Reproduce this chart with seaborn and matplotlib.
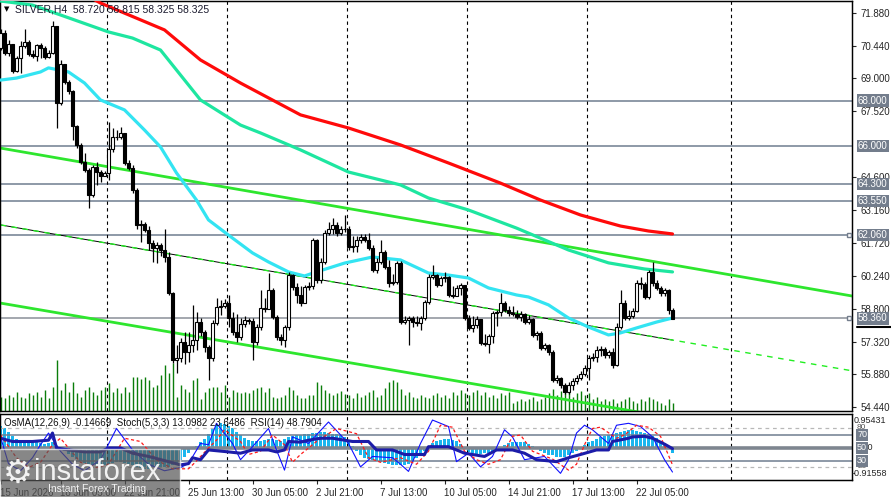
import numpy as np
import pandas as pd
import seaborn as sns
import matplotlib.pyplot as plt
from matplotlib.patches import Rectangle

# SILVER H4 candles (bar 0 = leftmost visible bar)
first_open = 70.33
closes = [
    70.99, 70.11, 70.51, 69.31, 69.89, 70.42, 70.60, 70.07, 69.98, 70.46,
    70.33, 69.93, 70.11, 71.30, 67.90, 69.62, 68.83, 68.43, 66.88, 66.04,
    65.29, 64.93, 63.82, 65.06, 64.84, 64.66, 64.80, 65.86, 66.39, 66.39,
    66.57, 65.24, 65.02, 64.05, 62.50, 62.54, 62.28, 61.70, 61.48, 61.61,
    61.39, 61.08, 59.49, 56.52, 56.61, 57.32, 56.88, 57.18, 57.41, 58.20,
    57.76, 57.10, 56.61, 58.16, 58.87, 58.91, 59.04, 58.38, 57.76, 57.54,
    58.11, 58.29, 58.25, 57.32, 57.98, 58.82, 58.78, 59.62, 58.42, 57.54,
    57.41, 57.98, 60.28, 59.75, 59.40, 59.04, 59.75, 59.80, 61.83, 60.06,
    60.86, 62.14, 62.32, 62.50, 62.14, 62.32, 62.32, 61.52, 61.57, 61.83,
    61.97, 61.83, 61.48, 60.51, 60.86, 61.30, 60.64, 59.93, 59.97, 60.81,
    58.20, 58.29, 58.38, 58.20, 58.16, 58.38, 59.09, 60.20, 60.28, 59.84,
    60.15, 60.20, 59.40, 59.35, 59.71, 59.84, 58.38, 57.94, 58.07, 58.34,
    57.27, 57.23, 57.58, 58.60, 58.65, 59.04, 58.73, 58.60, 58.56, 58.42,
    58.56, 58.20, 58.34, 57.63, 57.72, 57.05, 57.18, 56.88, 55.64, 55.72,
    55.42, 55.10, 55.42, 55.59, 55.72, 55.90, 56.17, 56.61, 56.65, 56.96,
    57.01, 56.74, 56.88, 56.30, 57.98, 59.04, 58.38, 58.47, 58.69, 59.93,
    59.89, 59.31, 60.42, 59.93, 59.71, 59.49, 59.62, 58.72, 58.325]
highs = [
    71.17, 71.13, 70.69, 70.51, 69.98, 70.64, 71.17, 70.69, 70.24, 70.51,
    70.55, 70.42, 70.24, 71.53, 71.30, 69.80, 69.36, 68.91, 68.47, 66.92,
    66.13, 65.68, 65.02, 65.15, 65.29, 64.93, 64.89, 67.06, 66.79, 66.70,
    66.83, 66.57, 65.37, 65.15, 64.13, 62.72, 62.63, 62.45, 61.83, 61.74,
    61.70, 62.32, 61.30, 59.53, 57.18, 57.49, 57.76, 57.76, 58.96, 58.65,
    58.38, 57.85, 57.18, 58.29, 59.26, 59.18, 59.22, 59.40, 58.65, 58.56,
    58.38, 58.47, 58.38, 58.38, 58.11, 59.62, 59.26, 60.37, 59.71, 58.51,
    57.67, 58.07, 60.42, 60.33, 59.93, 59.80, 59.84, 59.97, 61.92, 61.88,
    61.04, 62.28, 62.63, 62.81, 62.63, 62.45, 62.94, 62.45, 62.01, 62.01,
    62.10, 62.10, 62.14, 61.61, 61.04, 61.83, 61.39, 60.95, 60.33, 60.90,
    60.90, 58.47, 58.47, 58.47, 58.47, 58.47, 59.18, 60.33, 60.73, 60.33,
    60.24, 60.42, 60.24, 59.80, 59.84, 59.93, 59.35, 58.51, 58.47, 58.47,
    58.29, 57.67, 57.67, 58.69, 58.73, 59.49, 59.13, 58.91, 58.91, 58.73,
    58.69, 58.60, 58.51, 58.38, 57.80, 57.80, 57.27, 57.23, 56.96, 55.86,
    55.77, 55.50, 55.55, 55.72, 55.86, 56.04, 56.30, 56.74, 56.83, 57.14,
    57.14, 57.10, 56.96, 57.05, 58.16, 59.62, 59.18, 58.73, 58.82, 60.06,
    60.20, 59.97, 60.51, 60.86, 60.06, 59.80, 59.71, 59.66, 58.815]
lows = [
    70.24, 70.02, 69.98, 69.22, 69.27, 69.22, 70.33, 69.98, 69.89, 69.76,
    69.89, 69.84, 69.89, 70.07, 66.79, 67.81, 68.74, 68.30, 66.26, 65.90,
    65.20, 64.84, 63.25, 63.74, 64.27, 64.40, 64.71, 64.49, 65.73, 66.26,
    66.30, 65.15, 64.93, 63.91, 62.32, 61.74, 62.19, 61.39, 60.86, 60.81,
    61.12, 60.86, 59.40, 56.39, 55.94, 56.43, 56.35, 56.43, 56.88, 56.96,
    57.58, 56.88, 55.64, 56.48, 58.07, 58.51, 58.82, 57.98, 57.63, 57.32,
    57.41, 57.98, 58.11, 56.52, 57.18, 57.85, 58.65, 59.04, 58.34, 57.41,
    57.18, 57.10, 57.85, 59.62, 59.04, 58.91, 59.18, 59.62, 59.66, 59.93,
    59.93, 60.77, 62.05, 62.10, 62.01, 62.05, 62.19, 61.39, 61.30, 61.30,
    61.70, 61.74, 61.39, 60.42, 60.37, 60.77, 60.55, 59.75, 59.84, 59.89,
    58.11, 58.11, 57.18, 57.98, 58.03, 57.85, 58.29, 59.00, 60.11, 59.75,
    59.80, 59.97, 59.31, 59.26, 59.35, 59.40, 58.29, 57.85, 57.76, 57.94,
    57.18, 57.14, 56.83, 57.27, 58.03, 58.47, 58.65, 58.47, 58.47, 58.34,
    58.25, 58.11, 58.11, 57.54, 57.41, 56.96, 56.96, 56.74, 55.55, 55.50,
    55.28, 55.01, 55.01, 55.19, 55.46, 55.64, 55.81, 55.64, 56.48, 56.43,
    56.70, 56.61, 56.61, 56.17, 56.26, 57.89, 58.29, 58.29, 58.38, 58.65,
    59.66, 59.22, 59.22, 59.80, 59.62, 59.35, 59.35, 58.56, 58.325]
volumes = [
    1400, 1300, 1600, 1400, 1900, 1400, 1300, 1800, 1600, 1900, 1400, 2100, 1300, 2400,
    5100,
    2100, 2800, 1900, 2900, 1800, 1400, 2100, 2400, 1900, 1600, 2100, 2400, 2800, 1900, 2300,
    1800, 2400, 1900, 3400, 3400, 3200, 3400, 3100, 2400, 2600, 3600, 4600, 3800, 4800,
    1400, 2600, 2200, 1900, 3100, 3300, 1200, 1900, 2300, 2400,
    2400, 1900, 2600, 1400, 2100, 1900, 1800, 1900, 1800, 2100,
    2300, 2400, 1900, 2300, 1400, 1300, 1400, 1600, 2400, 2100,
    1600, 1300, 1300, 1600, 1600, 2900, 2600, 2100, 1800, 1600,
    1800, 2000, 1700,
    1600, 1300, 1800, 1400, 1600, 1900, 2100, 1400, 1600, 2300,
    2900, 3100, 2900, 2200, 1600, 1900, 1400, 1300, 1600, 1400,
    1300, 1600, 1800, 1400, 1600, 1300, 1900, 1600, 2100, 1800,
    1600, 1900, 2100, 1600, 1900, 1400, 1600, 1300, 1800, 1600, 1900,
    800, 1000, 1200, 1000, 1200, 1400, 1000, 1200, 1400, 1800,
    2200, 1600, 2000, 1800, 2000, 1400, 1800, 2000, 1600, 1800,
    1200, 1400, 1000, 1200, 1000, 1200, 800, 1000, 1200, 1400,
    1000, 800, 1200, 1000, 1400, 1200, 1000, 800, 600, 1200, 800]

# moving averages, read at points along each line (bar, price)
ma_red_bars = [20, 25, 41, 50, 60, 75, 87, 100, 112, 125, 135, 145, 155, 162, 168]
ma_red = [72.80, 72.32, 71.13, 69.80, 68.78, 67.37, 66.79, 66.04, 65.24, 64.35,
          63.60, 62.94, 62.45, 62.23, 62.10]
ma_teal_bars = [0, 8, 27, 33, 40, 50, 60, 65, 75, 87, 100, 107, 117, 129, 142, 152, 161, 168]
ma_teal = [72.41, 72.23, 71.04, 70.77, 70.24, 68.03, 66.92, 66.57, 65.82, 64.84,
           64.27, 63.69, 63.16, 62.36, 61.39, 60.82, 60.55, 60.42]
ma_cyan_bars = [0, 4, 10, 12, 17, 21, 25, 31, 36, 40, 44, 49, 52, 57, 63, 67, 72, 76,
                79, 86, 93, 100, 107, 112, 117, 122, 129, 132, 137, 142, 147, 152,
                155, 159, 164, 168]
ma_cyan = [68.91, 69.00, 69.27, 69.45, 69.27, 68.78, 68.03, 67.59, 66.70, 65.95,
           64.80, 63.60, 62.72, 62.05, 61.26, 60.86, 60.42, 60.24, 60.42, 60.81,
           61.08, 60.95, 60.37, 60.28, 60.15, 59.71, 59.40, 59.31, 58.96, 58.38,
           57.98, 57.63, 57.72, 57.94, 58.20, 58.38]

# channel lines (start bar, start price, end bar, end price)
upper_line = (0, 65.90, 213, 59.35)
middle_line = (0, 62.50, 213, 56.04)
lower_line = (0, 59.04, 213, 52.60)

levels = [68.000, 66.000, 64.300, 63.550, 62.060]
last_level = 58.360
price_ticks = [71.880, 70.440, 69.000, 67.520, 64.600, 63.160, 61.720, 60.240,
               58.800, 57.320, 55.880, 54.440]

# indicators
osma = [0.62, 0.57, 0.45, 0.34,
        0.25, 0.22, 0.2, 0.18, 0.15, 0.15, 0.12, 0.1, 0.12,
        0.15, 0.02,
        -0.05, -0.1, -0.18, -0.25, -0.32, -0.38,
        -0.42, -0.45, -0.48, -0.5, -0.5, -0.48, -0.45, -0.42, -0.4, -0.4,
        -0.42, -0.45, -0.5, -0.55, -0.58, -0.6, -0.6, -0.58, -0.55, -0.55,
        -0.55, -0.55, -0.5, -0.45, -0.35, -0.25,
        -0.15, -0.05, 0.05, 0.15, 0.25, 0.4,
        0.55, 0.65, 0.7, 0.68, 0.62, 0.55,
        0.45, 0.35, 0.28, 0.22, 0.2, 0.18, 0.18,
        0.22, 0.25, 0.25, 0.22, 0.2, 0.25, 0.3, 0.32, 0.35, 0.35,
        0.38, 0.4, 0.42, 0.42, 0.45, 0.45, 0.42, 0.4, 0.38, 0.35, 0.3,
        0.2, 0.05, -0.1, -0.2, -0.28, -0.33,
        -0.35, -0.38, -0.4, -0.42, -0.45, -0.48, -0.5, -0.5,
        -0.48, -0.45, -0.38, -0.3, -0.2, -0.1,
        0.05, 0.12, 0.18, 0.22, 0.25, 0.25, 0.22, 0.18, 0.1,
        -0.05, -0.12, -0.15, -0.17, -0.17, -0.16, -0.15, -0.12, -0.08,
        0.02, 0.08, 0.12, 0.15, 0.17, 0.17, 0.15, 0.1, 0.05,
        -0.05, -0.1, -0.15, -0.2, -0.22, -0.25, -0.26, -0.25, -0.22, -0.15, -0.08,
        0.0, 0.08, 0.15, 0.2, 0.25, 0.3, 0.33, 0.36, 0.4, 0.42, 0.45,
        0.48, 0.5, 0.5, 0.48, 0.45, 0.42, 0.38, 0.33, 0.28, 0.2, 0.12,
        -0.05, -0.15]
stoch_bars = [0, 2, 5, 8, 10, 12, 15, 18, 21, 25, 29, 33, 37, 41, 45, 47, 50, 52, 54, 58,
              60, 63, 67, 69, 71, 73, 77, 82, 87, 90, 93, 98, 100, 102, 105, 108, 112, 114,
              117, 120, 123, 126, 128, 131, 136, 140, 142, 144, 146, 148, 152, 154, 157,
              160, 163, 166, 168]
stoch_main = [67, 26, 15, 35, 55, 73, 45, 25, 15, 32, 80, 47, 25, 15, 20, 26, 57, 55, 88, 57,
              32, 52, 80, 47, 16, 67, 57, 90, 57, 21, 37, 35, 25, 14, 57, 93, 83, 29,
              42, 21, 37, 78, 67, 32, 37, 11, 32, 73, 85, 78, 57, 85, 88,
              83, 67, 32, 13]
signal_bars = [0, 4, 7, 10, 13, 15, 17, 20, 24, 27, 31, 35, 39, 43, 47, 49, 52, 54, 56, 60,
               62, 65, 68, 71, 73, 75, 79, 84, 89, 92, 95, 100, 104, 107, 110, 113, 116, 119,
               122, 125, 128, 130, 133, 138, 142, 144, 146, 148, 150, 154, 156, 159, 162,
               165, 168]
stoch_signal = [70, 35, 20, 28, 55, 65, 50, 28, 20, 25, 65, 60, 32, 18, 18, 30, 50, 62, 78, 60,
                40, 45, 70, 55, 28, 40, 60, 80, 72, 35, 28, 35, 25, 45, 85, 82, 45, 32,
                25, 32, 68, 70, 45, 33, 16, 25, 55, 80, 82, 65, 70, 85, 82,
                68, 24]
rsi_bars = [0, 3, 8, 12, 13, 14, 17, 21, 25, 27, 30, 33, 37, 42, 45, 47, 48, 50, 52, 57,
            60, 63, 67, 69, 71, 72, 75, 77, 80, 83, 86, 88, 92, 94, 98, 101, 106, 107, 112,
            116, 121, 124, 128, 131, 134, 139, 142, 145, 149, 152, 153, 157, 158, 161, 163,
            166, 168]
rsi = [65, 60, 60, 62, 73, 50, 47, 44, 44, 50, 50, 42, 37, 29, 24, 26, 35, 32, 47, 44,
       42, 47, 47, 44, 47, 60, 59, 62, 65, 65, 62, 60, 60, 47, 47, 40, 40, 52, 52,
       42, 37, 47, 47, 42, 32, 29, 35, 40, 47, 47, 60, 65, 67, 68, 65,
       56, 49]

time_ticks = [0, 15, 31, 47, 63, 79, 95, 111, 127, 143, 159]
time_labels = ["15 Jun 2026", "18 Jun 05:00", "22 Jun 21:00", "25 Jun 13:00",
               "30 Jun 05:00", "2 Jul 21:00", "7 Jul 13:00", "10 Jul 05:00",
               "14 Jul 21:00", "17 Jul 13:00", "22 Jul 05:00"]
week_lines = [26.6, 56.6, 86.6, 116.6, 146.6, 182.6]

sns.set_style("white")
plt.rcParams['font.family'] = ['Liberation Sans', 'DejaVu Sans']

fig = plt.figure(figsize=(8.91, 4.97), dpi=100)
ax = fig.add_axes([0, 86 / 497, 852 / 891, 410 / 497])
ind = fig.add_axes([0, 17 / 497, 852 / 891, 66 / 497])

bars = np.arange(len(closes))
c = np.array(closes)
o = np.r_[first_open, c[:-1]]
hi = np.maximum(np.array(highs), np.maximum(o, c))
lo = np.minimum(np.array(lows), np.minimum(o, c))
up = c >= o

# volume on a hidden twin axis, behind the price
vax = ax.twinx()
vax.vlines(bars, 0, volumes, color='#0a7d0a', lw=1)
vax.set_ylim(0, 41000)
vax.set_yticks([])
ax.set_zorder(vax.get_zorder() + 1)
ax.patch.set_visible(False)

for lv in levels:
    ax.axhline(lv, color='#6f7d90', lw=1.1, zorder=1)
ax.axhline(last_level, color='#8a9099', lw=1.1, zorder=1)
for xb in week_lines:
    ax.axvline(xb, color='black', lw=0.8, ls=(0, (3, 3)), zorder=1)
    ind.axvline(xb, color='black', lw=0.8, ls=(0, (3, 3)), zorder=1)

ax.plot(upper_line[::2], upper_line[1::2], color='#2ee62e', lw=2, zorder=2)
ax.plot(lower_line[::2], lower_line[1::2], color='#2ee62e', lw=2, zorder=2)
mid_end = middle_line[1] + (middle_line[3] - middle_line[1]) * 168 / 213
ax.plot([0, 168], [middle_line[1], mid_end], color='black', lw=0.7, zorder=2)
ax.plot(middle_line[::2], middle_line[1::2], color='#22ee22', lw=1, ls=(0, (4, 4)), zorder=2)

sns.lineplot(x=ma_red_bars, y=ma_red, ax=ax, color='#ff0a0a', lw=2.3, zorder=3)
sns.lineplot(x=ma_teal_bars, y=ma_teal, ax=ax, color='#1ee6a0', lw=2.3, zorder=3)
sns.lineplot(x=ma_cyan_bars, y=ma_cyan, ax=ax, color='#33e4f2', lw=2.3, zorder=3)

ax.vlines(bars, lo, hi, color='black', lw=0.9, zorder=4)
ax.bar(bars[up], c[up] - o[up], bottom=o[up], width=0.62, color='white',
       edgecolor='black', linewidth=0.8, zorder=5)
ax.bar(bars[~up], c[~up] - o[~up], bottom=o[~up], width=0.62, color='black',
       edgecolor='black', linewidth=0.8, zorder=5)

ax.set_xlim(-0.125, 212.875)
ax.set_ylim(54.264, 72.41)
ax.yaxis.tick_right()
ax.set_yticks(price_ticks)
ax.set_yticklabels([f"{p:.3f}" for p in price_ticks])
ax.tick_params(axis='y', labelsize=7, length=3, pad=3, direction='out', right=True)
ax.set_xticks([])
ax.set_xlabel('')
ax.set_ylabel('')
for s in ax.spines.values():
    s.set_color('black')
    s.set_linewidth(1)

ytr = ax.get_yaxis_transform()
for lv in levels + [last_level]:
    ax.text(1.007, lv, f"{lv:.3f}", transform=ytr, fontsize=7, color='white',
            va='center', ha='left', zorder=6,
            bbox=dict(boxstyle='square,pad=0.12', fc='#737d8c', ec='none'))
    if lv in (62.060, last_level):
        ax.plot([0.996], [lv], transform=ytr, marker='s', ms=3.5, mfc='white',
                mec='#737d8c', clip_on=False, zorder=6)
ax.plot([1.006, 1.046], [last_level - 0.36] * 2, transform=ytr, color='black', lw=1.5,
        clip_on=False, zorder=6)
ax.text(15 / 852, 1 - 8 / 410, "SILVER,H4  58.720 58.815 58.325 58.325",
        transform=ax.transAxes, fontsize=7.5, color='#1a1a2e', va='center', zorder=7)
ax.text(4 / 852, 1 - 8 / 410, "\u25BC", transform=ax.transAxes, fontsize=5,
        color='black', va='center', family=['DejaVu Sans'], zorder=7)

# indicator window: OsMA on a twin, stochastic and RSI in 0..100
oax = ind.twinx()
oax.bar(bars, osma, width=0.6, color='#1ab6ee', linewidth=0)
oax.set_ylim(-0.91558, 0.95431)
oax.set_yticks([])
ind.set_zorder(oax.get_zorder() + 1)
ind.patch.set_visible(False)

ind.axhline(80, color='#b8b8b8', lw=0.9, ls=(0, (3, 3)))
ind.axhline(20, color='#b8b8b8', lw=0.9, ls=(0, (3, 3)))
ind.axhline(70, color='#6f7d90', lw=1.1)
ind.axhline(30, color='#6f7d90', lw=1.1)
ind.axhline(50, color='#7e8690', lw=2.6)
sns.lineplot(x=stoch_bars, y=stoch_main, ax=ind, color='#1010ff', lw=0.8)
sns.lineplot(x=signal_bars, y=stoch_signal, ax=ind, color='#ff1a1a', lw=0.9, ls=(0, (2.5, 2)))
sns.lineplot(x=rsi_bars, y=rsi, ax=ind, color='#1c1ca8', lw=2.2)
ind.set_xlim(-0.125, 212.875)
ind.set_ylim(0.77, 102.3)
ind.set_yticks([])
ind.set_ylabel('')
ind.set_xticks(time_ticks)
ind.set_xticklabels(time_labels, ha='left')
ind.tick_params(axis='x', labelsize=7, length=3, pad=3, direction='out', bottom=True)
for s in ind.spines.values():
    s.set_color('black')
    s.set_linewidth(1)

itr = ind.get_yaxis_transform()
ind.text(1.004, 50, "0.00", transform=itr, fontsize=6.5, va='center', ha='left')
ind.text(1.006, 82, "80", transform=itr, fontsize=6, va='center', ha='left', color='#555555')
ind.text(1.006, 21, "20", transform=itr, fontsize=6, va='center', ha='left', color='#555555')
for lv in (70, 50, 30):
    ind.text(1.006, lv, str(lv), transform=itr, fontsize=6.5, color='white', va='center',
             ha='left', bbox=dict(boxstyle='square,pad=0.12', fc='#737d8c', ec='none'))
ind.text(1.002, 92, "0.95431", transform=itr, fontsize=6.5, va='center', ha='left')
ind.text(1.0, 11.5, "-0.91558", transform=itr, fontsize=6.5, va='center', ha='left')
ind.text(4 / 852, 0.86, "OsMA(12,26,9) -0.14669  Stoch(5,3,3) 13.0982 23.6486  RSI(14) 48.7904",
         transform=ind.transAxes, fontsize=7, va='center', color='#111111', zorder=7)

# watermark block at the bottom left
fig.patches.append(Rectangle((0, 0), 180 / 891, 48 / 497, transform=fig.transFigure,
                             facecolor='#555555', alpha=0.7, zorder=20))
fig.text(3 / 891, 24 / 497, "\u2699", fontsize=24, color='white', family=['DejaVu Sans'],
         va='center', zorder=21, alpha=0.9)
fig.text(34 / 891, 25 / 497, "instaforex", fontsize=21, color='white', va='center',
         zorder=21, alpha=0.9)
fig.text(48 / 891, 8 / 497, "Instant Forex Trading", fontsize=7.5, color='white',
         va='center', zorder=21, alpha=0.9)

fig.savefig("out.png", dpi=100)
